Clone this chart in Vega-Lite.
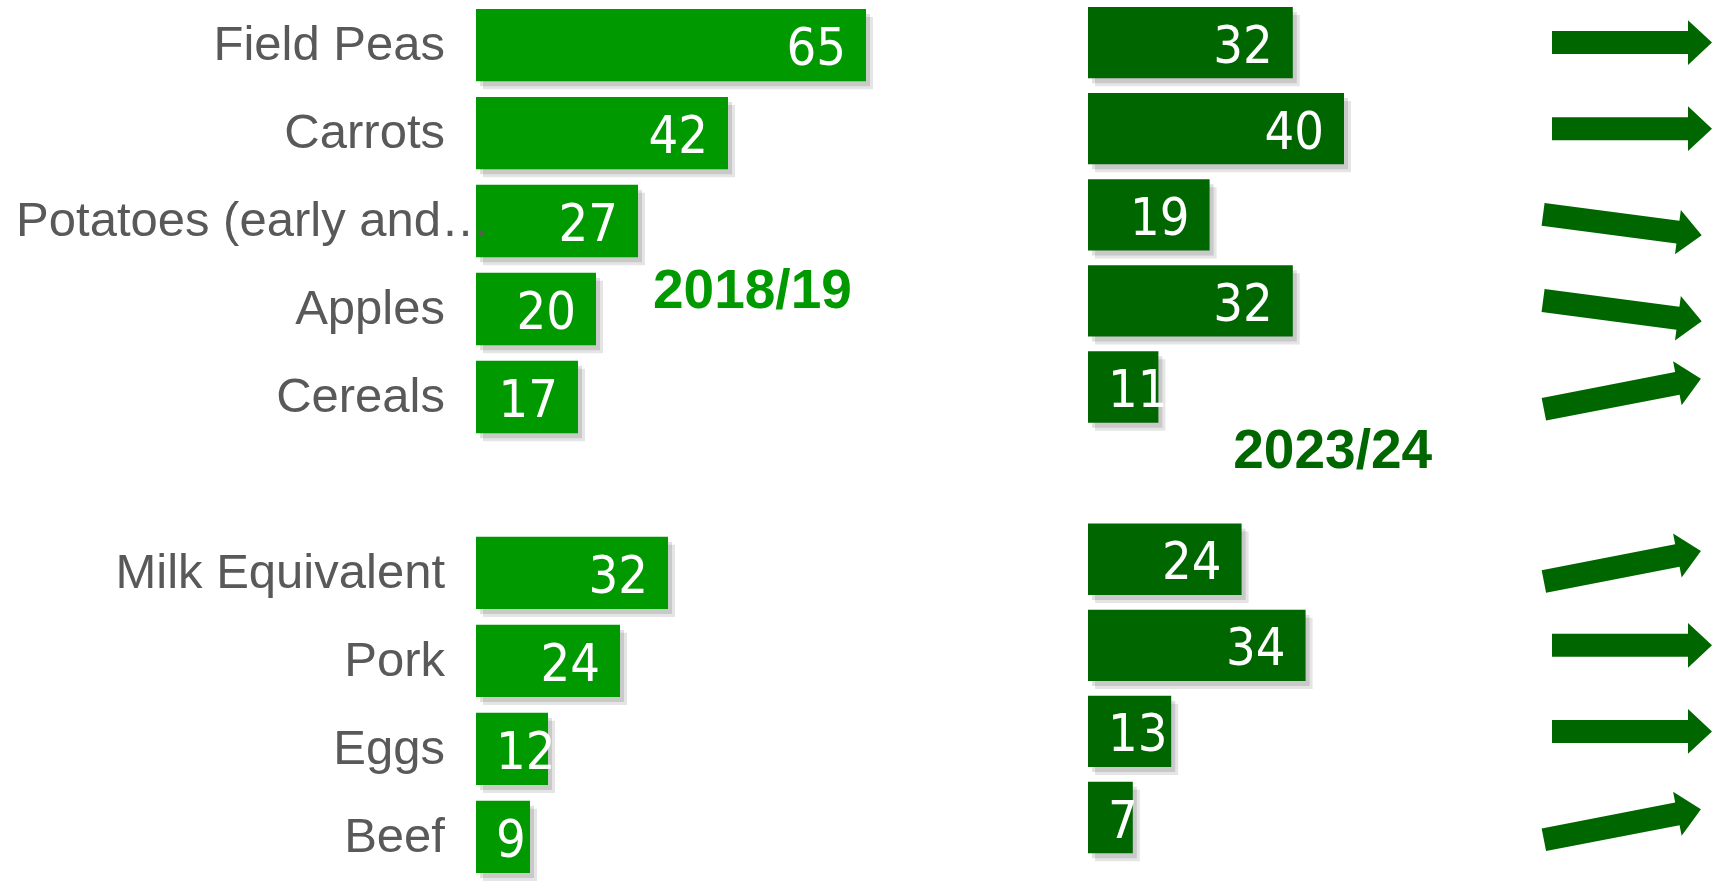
{
  "$schema": "https://vega.github.io/schema/vega-lite/v6.json",
  "width": 1720,
  "height": 881,
  "autosize": {"type": "fit", "contains": "padding"},
  "padding": 0,
  "background": "white",
  "config": {"view": {"stroke": null}, "axis": {"disable": true}},
  "data": {
    "values": [
      {"item": "Field Peas", "v2018_19": 65, "v2023_24": 32, "trend": "level"},
      {"item": "Carrots", "v2018_19": 42, "v2023_24": 40, "trend": "level"},
      {"item": "Potatoes (early and maincrop)", "v2018_19": 27, "v2023_24": 19, "trend": "down"},
      {"item": "Apples", "v2018_19": 20, "v2023_24": 32, "trend": "down"},
      {"item": "Cereals", "v2018_19": 17, "v2023_24": 11, "trend": "up"},
      {"item": "Milk Equivalent", "v2018_19": 32, "v2023_24": 24, "trend": "up"},
      {"item": "Pork", "v2018_19": 24, "v2023_24": 34, "trend": "level"},
      {"item": "Eggs", "v2018_19": 12, "v2023_24": 13, "trend": "level"},
      {"item": "Beef", "v2018_19": 9, "v2023_24": 7, "trend": "up"}
    ]
  },
  "layer": [
    {
      "encoding": {
        "y": {
          "field": "item", "type": "nominal", "axis": null, "sort": null,
          "scale": {
            "domain": ["Field Peas", "Carrots", "Potatoes (early and maincrop)", "Apples", "Cereals", " ", "Milk Equivalent", "Pork", "Eggs", "Beef"],
            "paddingInner": 0.1777, "paddingOuter": 0.0507, "align": 1
          }
        }
      },
      "layer": [
        {
          "mark": {"type": "bar", "color": "#000000", "opacity": 0.1, "xOffset": 7, "yOffset": 8},
          "encoding": {"x": {"field": "v2018_19", "type": "quantitative", "axis": null, "scale": {"domain": [0, 65], "range": [476, 866]}}}
        },
        {
          "mark": {"type": "bar", "color": "#000000", "opacity": 0.12, "xOffset": 4, "yOffset": 5},
          "encoding": {"x": {"field": "v2018_19", "type": "quantitative"}}
        },
        {
          "mark": {"type": "bar", "color": "#009900"},
          "encoding": {"x": {"field": "v2018_19", "type": "quantitative"}}
        },
        {
          "transform": [{"filter": "datum.v2018_19 > 12"}],
          "mark": {"type": "text", "align": "right", "baseline": "middle", "dx": -20, "dy": 4, "color": "#ffffff", "font": "DejaVu Sans Condensed, Liberation Sans Narrow, Roboto", "fontSize": 52},
          "encoding": {
            "x": {"field": "v2018_19", "type": "quantitative"},
            "text": {"field": "v2018_19", "type": "quantitative"}
          }
        },
        {
          "transform": [{"filter": "datum.v2018_19 <= 12"}],
          "mark": {"type": "text", "align": "left", "baseline": "middle", "dx": 20, "dy": 4, "color": "#ffffff", "font": "DejaVu Sans Condensed, Liberation Sans Narrow, Roboto", "fontSize": 52},
          "encoding": {
            "x": {"datum": 0, "type": "quantitative"},
            "text": {"field": "v2018_19", "type": "quantitative"}
          }
        },
        {
          "transform": [{"filter": "length(datum.item) <= 20"}],
          "mark": {"type": "text", "align": "right", "baseline": "middle", "dx": -31, "color": "#595959", "font": "Liberation Sans, Arial", "fontSize": 49},
          "encoding": {
            "x": {"datum": 0, "type": "quantitative"},
            "text": {"field": "item", "type": "nominal"}
          }
        },
        {
          "transform": [{"filter": "length(datum.item) > 20"}],
          "mark": {"type": "text", "align": "right", "baseline": "middle", "dx": 14, "color": "#595959", "font": "Liberation Sans, Arial", "fontSize": 49, "limit": 476},
          "encoding": {
            "x": {"datum": 0, "type": "quantitative"},
            "text": {"field": "item", "type": "nominal"}
          }
        },
        {
          "data": {"values": [{"year": "2018/19", "row": "Apples"}]},
          "mark": {"type": "text", "align": "left", "baseline": "middle", "yOffset": -18, "color": "#009900", "font": "Liberation Sans, Arial", "fontWeight": "bold", "fontSize": 55},
          "encoding": {
            "x": {"datum": 29.5, "type": "quantitative"},
            "y": {"field": "row", "type": "nominal"},
            "text": {"field": "year", "type": "nominal"}
          }
        }
      ]
    },
    {
      "encoding": {
        "y": {
          "field": "item", "type": "nominal", "axis": null, "sort": null,
          "scale": {
            "domain": ["Field Peas", "Carrots", "Potatoes (early and maincrop)", "Apples", "Cereals", " ", "Milk Equivalent", "Pork", "Eggs", "Beef"],
            "paddingInner": 0.1714, "paddingOuter": 0.1553, "align": 0.259
          }
        }
      },
      "layer": [
        {
          "mark": {"type": "bar", "color": "#000000", "opacity": 0.1, "xOffset": 7, "yOffset": 8},
          "encoding": {"x": {"field": "v2023_24", "type": "quantitative", "axis": null, "scale": {"domain": [0, 40], "range": [1088, 1344]}}}
        },
        {
          "mark": {"type": "bar", "color": "#000000", "opacity": 0.12, "xOffset": 4, "yOffset": 5},
          "encoding": {"x": {"field": "v2023_24", "type": "quantitative"}}
        },
        {
          "mark": {"type": "bar", "color": "#006600"},
          "encoding": {"x": {"field": "v2023_24", "type": "quantitative"}}
        },
        {
          "transform": [{"filter": "datum.v2023_24 > 13"}],
          "mark": {"type": "text", "align": "right", "baseline": "middle", "dx": -20, "dy": 4, "color": "#ffffff", "font": "DejaVu Sans Condensed, Liberation Sans Narrow, Roboto", "fontSize": 52},
          "encoding": {
            "x": {"field": "v2023_24", "type": "quantitative"},
            "text": {"field": "v2023_24", "type": "quantitative"}
          }
        },
        {
          "transform": [{"filter": "datum.v2023_24 <= 13"}],
          "mark": {"type": "text", "align": "left", "baseline": "middle", "dx": 20, "dy": 4, "color": "#ffffff", "font": "DejaVu Sans Condensed, Liberation Sans Narrow, Roboto", "fontSize": 52},
          "encoding": {
            "x": {"datum": 0, "type": "quantitative"},
            "text": {"field": "v2023_24", "type": "quantitative"}
          }
        },
        {
          "data": {"values": [{"year": "2023/24", "row": "Cereals"}]},
          "mark": {"type": "text", "align": "left", "baseline": "middle", "yOffset": 64, "color": "#006600", "font": "Liberation Sans, Arial", "fontWeight": "bold", "fontSize": 55},
          "encoding": {
            "x": {"datum": 22.7, "type": "quantitative"},
            "y": {"field": "row", "type": "nominal"},
            "text": {"field": "year", "type": "nominal"}
          }
        },
        {
          "transform": [{"filter": "datum.trend === 'level'"}],
          "mark": {"type": "point", "shape": "M -1 -0.144 L 0.7 -0.144 L 0.7 -0.28 L 1 0 L 0.7 0.28 L 0.7 0.144 L -1 0.144 Z", "size": 25600, "filled": true, "color": "#006600", "opacity": 1, "strokeWidth": 0, "angle": 0},
          "encoding": {"x": {"datum": 85, "type": "quantitative"}}
        },
        {
          "transform": [{"filter": "datum.trend === 'down'"}],
          "mark": {"type": "point", "shape": "M -1 -0.144 L 0.7 -0.144 L 0.7 -0.28 L 1 0 L 0.7 0.28 L 0.7 0.144 L -1 0.144 Z", "size": 25600, "filled": true, "color": "#006600", "opacity": 1, "strokeWidth": 0, "angle": 7.5, "yOffset": 10},
          "encoding": {"x": {"datum": 83.5, "type": "quantitative"}}
        },
        {
          "transform": [{"filter": "datum.trend === 'up'"}],
          "mark": {"type": "point", "shape": "M -1 -0.144 L 0.7 -0.144 L 0.7 -0.28 L 1 0 L 0.7 0.28 L 0.7 0.144 L -1 0.144 Z", "size": 25600, "filled": true, "color": "#006600", "opacity": 1, "strokeWidth": 0, "angle": 349, "yOffset": 7},
          "encoding": {"x": {"datum": 83.5, "type": "quantitative"}}
        }
      ]
    }
  ],
  "resolve": {"scale": {"x": "independent", "y": "independent"}}
}
